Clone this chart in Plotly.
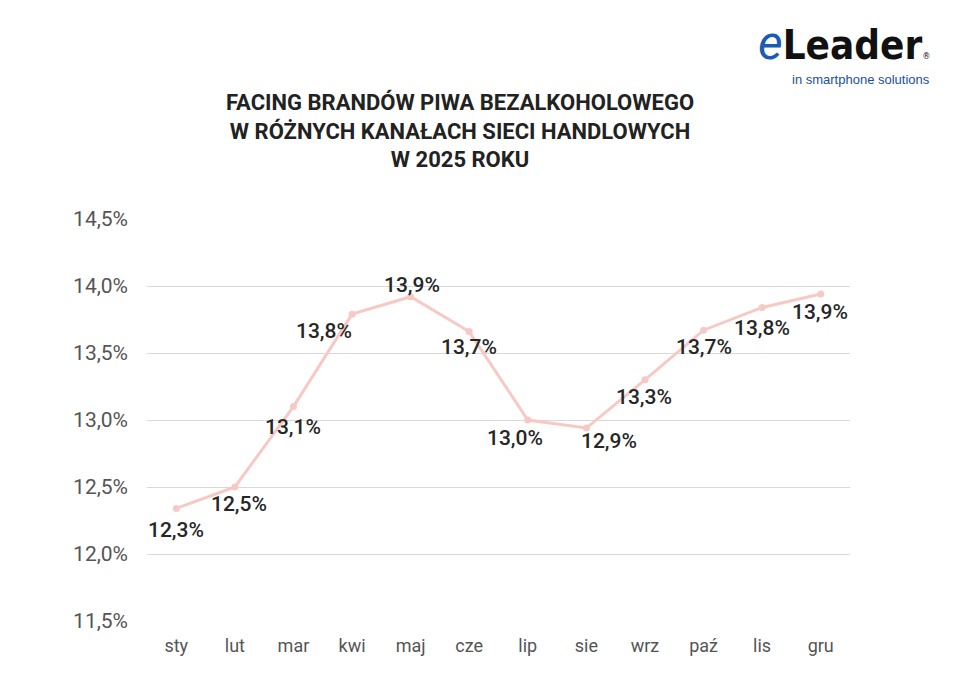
import plotly.graph_objects as go

months = ["sty", "lut", "mar", "kwi", "maj", "cze", "lip", "sie", "wrz", "paź", "lis", "gru"]
values = [12.34, 12.50, 13.10, 13.79, 13.92, 13.66, 13.00, 12.94, 13.30, 13.67, 13.84, 13.94]
y_ticks = [11.5, 12.0, 12.5, 13.0, 13.5, 14.0, 14.5]
y_tick_labels = ["11,5%", "12,0%", "12,5%", "13,0%", "13,5%", "14,0%", "14,5%"]
title_lines = ["FACING BRANDÓW PIWA BEZALKOHOLOWEGO", "W RÓŻNYCH KANAŁACH SIECI HANDLOWYCH", "W 2025 ROKU"]

# label offsets (pixels) per point
label_dx = [0, 4, 0, -28, 1, 0, -13, 23, -1, 0, 0, -1]
label_dy = [-22, -17, -20, -17, 12, -15, -18, -13, -17, -17, -21, -18]

labels = [f"{v:.1f}".replace(".", ",") + "%" for v in values]

fig = go.Figure()
fig.add_trace(go.Scatter(
    x=months, y=values, mode="lines+markers",
    line=dict(color="#f7c9c5", width=3),
    marker=dict(color="#f7c9c5", size=7),
    hoverinfo="skip", showlegend=False,
))

for m, v, t, dx, dy in zip(months, values, labels, label_dx, label_dy):
    fig.add_annotation(x=m, y=v, text=t, showarrow=False,
                       xshift=dx, yshift=dy,
                       font=dict(family="Roboto", size=21, color="#262626", weight=500))

fig.add_annotation(xref="paper", yref="paper", x=0.445, y=1, xanchor="center", yanchor="bottom",
                   text="<b>" + "<br>".join(title_lines) + "</b>", showarrow=False,
                   yshift=45, font=dict(family="Roboto", size=22, color="#222222"))

# logo
fig.add_annotation(xref="paper", yref="paper", x=1.117, y=1, xanchor="right", yanchor="bottom",
                   yshift=146, showarrow=False,
                   text="<span style='font-family:Roboto;font-style:italic;color:#1a5bb5;font-size:48px'><i>e</i></span><b>Leader</b><span style='font-size:9px'>®</span>",
                   font=dict(family="DejaVu Sans Condensed, DejaVu Sans", size=40, color="#111111"))
fig.add_annotation(xref="paper", yref="paper", x=1.117, y=1, xanchor="right", yanchor="bottom",
                   yshift=130, showarrow=False, text="in smartphone solutions",
                   font=dict(family="Arial, Liberation Sans", size=13, color="#1a4fa0"))

fig.update_layout(
    width=960, height=673,
    margin=dict(l=147, r=110, t=219, b=52),
    paper_bgcolor="white", plot_bgcolor="white",
    xaxis=dict(showgrid=False, showline=False, zeroline=False, range=[-0.5, 11.5],
               tickfont=dict(family="Roboto", size=18, color="#555555"),
               ticklabelstandoff=12, fixedrange=True),
    yaxis=dict(range=[11.5, 14.5], tickvals=y_ticks, ticktext=y_tick_labels,
               showgrid=True, gridcolor="#d9d9d9", gridwidth=1, zeroline=False,
               showline=False, tickfont=dict(family="Roboto", size=21, color="#555555"),
               ticklabelstandoff=18, fixedrange=True),
)

fig.write_html("out.html")
